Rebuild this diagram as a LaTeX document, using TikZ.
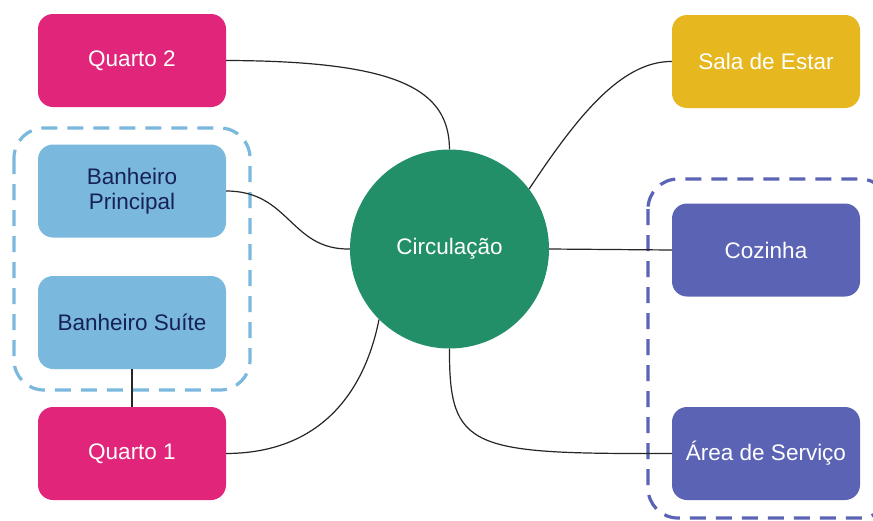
\documentclass[tikz,border=0pt]{standalone}
\usepackage{fontspec}
\setmainfont{Liberation Sans}
\definecolor{cpink}{HTML}{E0257A}
\definecolor{clblue}{HTML}{7AB8DE}
\definecolor{cyellow}{HTML}{E6B71E}
\definecolor{cpurple}{HTML}{5B63B5}
\definecolor{cgreen}{HTML}{238F68}
\definecolor{cnavy}{HTML}{16215A}
\begin{document}
\begin{tikzpicture}[x=1pt,y=-1pt,
  room/.style={rectangle, rounded corners=15pt, minimum width=188pt, minimum height=93pt, inner sep=0pt, font=\fontsize{22.5}{25}\selectfont, align=center},
  pinkroom/.style={room, fill=cpink, text=white},
  blueroom/.style={room, fill=clblue, text=cnavy},
  yelroom/.style={room, fill=cyellow, text=white},
  purroom/.style={room, fill=cpurple, text=white},
  conn/.style={draw=black!85, line width=1.2pt},
  grp/.style={line width=3.2pt, dash pattern=on 16pt off 10pt, rounded corners=30pt}
]
\useasboundingbox (0,0) rectangle (873,520);
\fill[white] (0,0) rectangle (873,520);
% groups
\draw[grp, draw=clblue] (14,128) rectangle (250,390);
\draw[grp, draw=cpurple] (648,179) rectangle (890,518);
% nodes
\node[pinkroom] (q2) at (132,60.5) {Quarto 2};
\node[blueroom] (bp) at (132,191) {Banheiro\\Principal};
\node[blueroom] (bs) at (132,322.5) {Banheiro Suíte};
\node[pinkroom] (q1) at (132,453.5) {Quarto 1};
\node[yelroom] (se) at (766,61.5) {Sala de Estar};
\node[purroom] (cz) at (766,250) {Cozinha};
\node[purroom] (as) at (766,453.5) {Área de Serviço};
\node[circle, fill=cgreen, minimum size=199pt, inner sep=0pt, text=white, font=\fontsize{22.5}{25}\selectfont] (ci) at (449.5,249) {Circulação};
% connectors
\coordinate (ciTop) at (ci.north);
\draw[conn] (q2.east) .. controls (400,61) and (449,90) .. (ciTop);
\draw[conn] (bp.east) .. controls (290,191) and (290,250) .. (ci.west);
\draw[conn] (q1.east) .. controls (340,453) and (370,365) .. (ci.-135);
\draw[conn] (bs.south) -- (q1.north);
\draw[conn] (ci.37) .. controls (575,120) and (620,61) .. (se.west);
\draw[conn] (ci.east) -- (cz.west);
\draw[conn] (ci.south) .. controls (449,450) and (470,454) .. (as.west);
\end{tikzpicture}
\end{document}
